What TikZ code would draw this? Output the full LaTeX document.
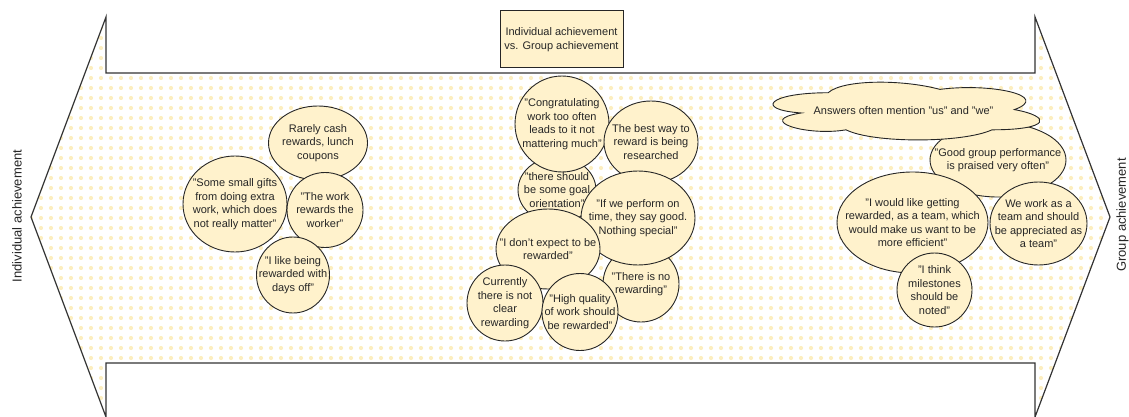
\documentclass[tikz,border=0pt]{standalone}
\usepackage{fontspec}
\setmainfont{Liberation Sans}
\usetikzlibrary{shapes.geometric}

\definecolor{note}{HTML}{FFF2CC}
\definecolor{dotc}{HTML}{FCEEC0}
\definecolor{ink}{HTML}{262626}
\definecolor{edge}{HTML}{333333}

% one quotation bubble: name, centre x, centre y, width, height, text
\newcommand{\quotebubble}[6]{%
  \node[bub, minimum width=#4pt, minimum height=#5pt] (#1) at (#2,#3) {};
  \node[btxt] (#1-t) at (#1.center) {#6};
}

\begin{document}
\begin{tikzpicture}[x=1pt, y=-1pt,
  bub/.style={ellipse, draw=ink, line width=0.9pt, fill=note, inner sep=0pt, outer sep=0pt},
  btxt/.style={inner sep=0pt, align=center, text=ink, font=\fontsize{11}{13.5}\selectfont},
  sidelabel/.style={inner sep=0pt, rotate=90, text=ink, font=\fontsize{13}{15}\selectfont},
  titlebox/.style={draw=ink, line width=1pt, fill=note, inner sep=0pt, align=center,
                   text=ink, font=\fontsize{11}{14}\selectfont},
  outline/.style={draw=edge, line width=1.2pt, line join=miter}]

\useasboundingbox (0,0) rectangle (1129,417);

% corners of the double-headed arrow
\coordinate (tipL) at (31,217);
\coordinate (hLt) at (106,17);
\coordinate (sLt) at (106,73);
\coordinate (sRt) at (1035,73);
\coordinate (hRt) at (1035,17);
\coordinate (tipR) at (1110,217);
\coordinate (hRb) at (1035,417);
\coordinate (sRb) at (1035,363);
\coordinate (sLb) at (106,363);
\coordinate (hLb) at (106,417);

% dotted fill of the arrow, one row of dots per path
\begin{scope}
  \clip (tipL) -- (hLt) -- (sLt) -- (sRt) -- (hRt) -- (tipR) -- (hRb) -- (sRb) -- (sLb) -- (hLb) -- cycle;
  \foreach \j in {0,...,41} {
    \fill[dotc] \foreach \i in {3,...,111} {({10*\i+1},{10*\j+8}) circle[radius=2.1]};
  }
\end{scope}
\path[outline] (tipL) -- (hLt) -- (sLt) -- (sRt) -- (hRt) -- (tipR) -- (hRb) -- (sRb) -- (sLb) -- (hLb) -- cycle;

% title and axis ends
\node[titlebox, minimum width=123pt, minimum height=57pt] (title) at (561.5,39.5)
  {Individual achievement\\vs. Group achievement};
\node[sidelabel] (indiv) at (17,216) {Individual achievement};
\node[sidelabel] (group) at (1122.5,215) {Group achievement};

% individual side
\quotebubble{cash}{318}{143}{99}{74}{Rarely cash\\rewards, lunch\\coupons}
\quotebubble{gifts}{235}{204}{104}{96}{"Some small gifts\\from doing extra\\work, which does\\not really matter"}
\quotebubble{worker}{325}{210}{76}{75}{"The work\\rewards the\\worker"}
\quotebubble{daysoff}{293}{275}{73}{76}{"I like being\\rewarded with\\days off"}

% middle
\quotebubble{goal}{557}{190}{78}{66}{"there should\\be some goal\\orientation"}
\quotebubble{congrat}{562}{124}{94}{96}{"Congratulating\\work too often\\leads to it not\\mattering much"}
\quotebubble{research}{651}{142}{94}{82}{The best way to\\reward is being\\researched}
\quotebubble{norew}{641}{284}{76}{76}{"There is no\\rewarding"}
\quotebubble{ontime}{638}{218}{114}{94}{"If we perform on\\time, they say good.\\Nothing special"}
\quotebubble{noexp}{548}{249}{104}{80}{"I don't expect to be\\rewarded"}
\quotebubble{notclear}{505}{303}{76}{76}{Currently\\there is not\\clear\\rewarding}
\quotebubble{quality}{580}{312}{76}{77}{"High quality\\of work should\\be rewarded"}

% group side
\quotebubble{praised}{998}{160}{136}{74}{"Good group performance\\is praised very often"}
\begin{scope}[shift={(753.6,75.9)}, x=298pt, y=-67.4pt]
  \filldraw[fill=note, draw=ink, line width=0.9pt]
    (0.25,0.25) .. controls (0.05,0.25) and (0,0.5) .. (0.16,0.55)
    .. controls (0,0.66) and (0.18,0.9) .. (0.31,0.8)
    .. controls (0.4,1) and (0.7,1) .. (0.8,0.8)
    .. controls (1,0.8) and (1,0.6) .. (0.875,0.5)
    .. controls (1,0.3) and (0.8,0.1) .. (0.625,0.2)
    .. controls (0.5,0.05) and (0.3,0.05) .. (0.25,0.25) -- cycle;
\end{scope}
\node[btxt] (uswe) at (903.5,111) {Answers often mention "us" and "we"};
\quotebubble{asteam}{912.5}{222.5}{151}{101}{"I would like getting\\rewarded, as a team, which\\would make us want to be\\more efficient"}
\quotebubble{appreciated}{1038.5}{223.5}{97}{83}{We work as a\\team and should\\be appreciated as\\a team"}
\quotebubble{milestones}{934.5}{290}{75}{74}{"I think\\milestones\\should be\\noted"}

\end{tikzpicture}
\end{document}
